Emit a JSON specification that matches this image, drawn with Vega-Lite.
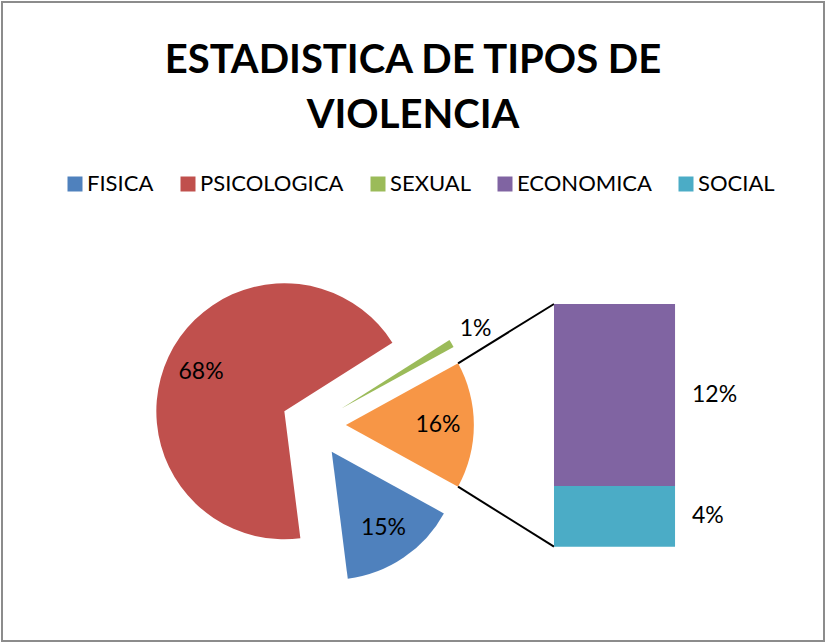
{
  "$schema": "https://vega.github.io/schema/vega-lite/v6.json",
  "width": 822,
  "height": 639,
  "autosize": {"type": "none"},
  "padding": {"left": 2, "top": 2, "right": 2, "bottom": 2},
  "background": "white",
  "config": {
    "view": {"stroke": "#8C8C8C", "strokeWidth": 2},
    "font": "Lato"
  },
  "title": {
    "text": ["ESTADISTICA DE TIPOS DE", "VIOLENCIA"],
    "orient": "top",
    "anchor": "middle",
    "frame": "group",
    "offset": -134,
    "fontSize": 40,
    "fontWeight": "bold",
    "font": "Lato",
    "color": "#000000",
    "lineHeight": 55
  },
  "datasets": {
    "pastel": [
      {"tipo": "OTRO", "valor": 16},
      {"tipo": "FISICA", "valor": 15},
      {"tipo": "PSICOLOGICA", "valor": 68},
      {"tipo": "SEXUAL", "valor": 1}
    ],
    "barra": [
      {"tipo": "SOCIAL", "valor": 4},
      {"tipo": "ECONOMICA", "valor": 12}
    ]
  },
  "layer": [
    {
      "data": {"name": "pastel"},
      "transform": [
        {"window": [{"op": "sum", "field": "valor", "as": "fin"}], "frame": [null, 0]},
        {"calculate": "datum.fin - datum.valor", "as": "inicio"},
        {"calculate": "1.06814 + (datum.inicio + datum.valor / 2) / 100 * 2 * PI", "as": "medio"},
        {"calculate": "-15.85 + 2.13 * sin(datum.medio)", "as": "cx"},
        {"calculate": "8.02 + 2.13 * cos(datum.medio)", "as": "cy"},
        {"calculate": "datum.valor + '%'", "as": "etiqueta"}
      ],
      "layer": [
        {
          "mark": {"type": "arc", "radius": 128},
          "encoding": {
            "x": {"field": "cx", "type": "quantitative", "stack": null, "axis": null, "scale": {"domain": [-36.39, 17.8], "zero": false, "nice": false}},
            "y": {"field": "cy", "type": "quantitative", "stack": null, "axis": null, "scale": {"domain": [-6.22, 35.91], "zero": false, "nice": false}},
            "theta": {"field": "inicio", "type": "quantitative", "stack": null, "scale": {"domain": [0, 100], "range": [1.06814, 7.35133]}},
            "theta2": {"field": "fin"},
            "color": {
              "field": "tipo",
              "type": "nominal",
              "scale": {
                "domain": ["FISICA", "PSICOLOGICA", "SEXUAL", "ECONOMICA", "SOCIAL", "OTRO"],
                "range": ["#4F81BD", "#C0504D", "#9BBB59", "#8064A2", "#4BACC6", "#F79646"]
              },
              "legend": {
                "values": ["FISICA", "PSICOLOGICA", "SEXUAL", "ECONOMICA", "SOCIAL"],
                "orient": "none",
                "legendX": 62,
                "legendY": 171,
                "direction": "horizontal",
                "columns": 5,
                "title": null,
                "symbolType": "square",
                "symbolSize": 225,
                "symbolStrokeWidth": 0,
                "labelFontSize": 22,
                "labelFont": "Lato",
                "labelColor": "#000000",
                "labelOffset": 1,
                "columnPadding": 23
              }
            }
          }
        },
        {
          "transform": [
            {"calculate": "datum.valor < 5 ? 10.28 : 6.07", "as": "rl"},
            {"calculate": "datum.cx + datum.rl * sin(datum.medio)", "as": "lx"},
            {"calculate": "datum.cy + datum.rl * cos(datum.medio)", "as": "ly"}
          ],
          "mark": {"type": "text", "fontSize": 23, "font": "Lato", "color": "#000000", "align": "center", "baseline": "middle"},
          "encoding": {
            "x": {"field": "lx", "type": "quantitative", "axis": null, "scale": {"domain": [-36.39, 17.8], "zero": false, "nice": false}},
            "y": {"field": "ly", "type": "quantitative", "axis": null, "scale": {"domain": [-6.22, 35.91], "zero": false, "nice": false}},
            "text": {"field": "etiqueta"}
          }
        },
        {
          "transform": [
            {"filter": "datum.tipo === 'OTRO'"},
            {"calculate": "1.06814 + datum.inicio / 100 * 2 * PI", "as": "a0"},
            {"calculate": "datum.cx + 8.44 * sin(datum.a0)", "as": "ax"},
            {"calculate": "datum.cy + 8.44 * cos(datum.a0)", "as": "ay"}
          ],
          "mark": {"type": "rule", "color": "#000000", "strokeWidth": 2},
          "encoding": {
            "x": {"field": "ax", "type": "quantitative", "axis": null, "scale": {"domain": [-36.39, 17.8], "zero": false, "nice": false}},
            "y": {"field": "ay", "type": "quantitative", "axis": null, "scale": {"domain": [-6.22, 35.91], "zero": false, "nice": false}},
            "x2": {"datum": 0},
            "y2": {"field": "valor"}
          }
        },
        {
          "transform": [
            {"filter": "datum.tipo === 'OTRO'"},
            {"calculate": "1.06814 + datum.fin / 100 * 2 * PI", "as": "a1"},
            {"calculate": "datum.cx + 8.44 * sin(datum.a1)", "as": "bx"},
            {"calculate": "datum.cy + 8.44 * cos(datum.a1)", "as": "by"}
          ],
          "mark": {"type": "rule", "color": "#000000", "strokeWidth": 2},
          "encoding": {
            "x": {"field": "bx", "type": "quantitative", "axis": null, "scale": {"domain": [-36.39, 17.8], "zero": false, "nice": false}},
            "y": {"field": "by", "type": "quantitative", "axis": null, "scale": {"domain": [-6.22, 35.91], "zero": false, "nice": false}},
            "x2": {"datum": 0},
            "y2": {"datum": 0}
          }
        }
      ]
    },
    {
      "data": {"name": "barra"},
      "transform": [
        {"window": [{"op": "sum", "field": "valor", "as": "fin"}], "frame": [null, 0]},
        {"calculate": "datum.fin - datum.valor", "as": "inicio"},
        {"calculate": "(datum.inicio + datum.fin) / 2", "as": "centro"},
        {"calculate": "datum.valor + '%'", "as": "etiqueta"}
      ],
      "layer": [
        {
          "mark": {"type": "bar"},
          "encoding": {
            "x": {"datum": 0, "type": "quantitative", "axis": null, "scale": {"domain": [-36.39, 17.8], "zero": false, "nice": false}},
            "x2": {"datum": 7.98},
            "y": {"field": "inicio", "type": "quantitative", "stack": null, "axis": null, "scale": {"domain": [-6.22, 35.91], "zero": false, "nice": false}},
            "y2": {"field": "fin"},
            "color": {
              "field": "tipo",
              "type": "nominal",
              "scale": {
                "domain": ["FISICA", "PSICOLOGICA", "SEXUAL", "ECONOMICA", "SOCIAL", "OTRO"],
                "range": ["#4F81BD", "#C0504D", "#9BBB59", "#8064A2", "#4BACC6", "#F79646"]
              },
              "legend": {
                "values": ["FISICA", "PSICOLOGICA", "SEXUAL", "ECONOMICA", "SOCIAL"],
                "orient": "none",
                "legendX": 62,
                "legendY": 171,
                "direction": "horizontal",
                "columns": 5,
                "title": null,
                "symbolType": "square",
                "symbolSize": 225,
                "symbolStrokeWidth": 0,
                "labelFontSize": 22,
                "labelFont": "Lato",
                "labelColor": "#000000",
                "labelOffset": 1,
                "columnPadding": 23
              }
            }
          }
        },
        {
          "mark": {"type": "text", "fontSize": 23, "font": "Lato", "color": "#000000", "align": "left", "baseline": "middle"},
          "encoding": {
            "x": {"datum": 9.1, "type": "quantitative", "axis": null, "scale": {"domain": [-36.39, 17.8], "zero": false, "nice": false}},
            "y": {"field": "centro", "type": "quantitative", "axis": null, "scale": {"domain": [-6.22, 35.91], "zero": false, "nice": false}},
            "text": {"field": "etiqueta"}
          }
        }
      ]
    }
  ]
}
